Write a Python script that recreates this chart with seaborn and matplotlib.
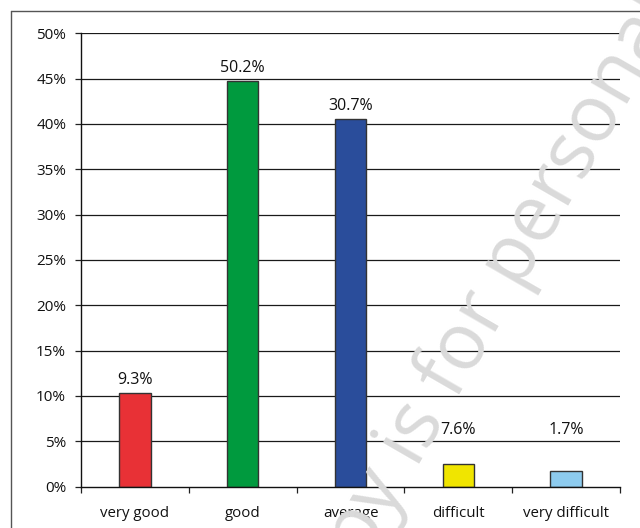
import matplotlib
matplotlib.use("Agg")
import matplotlib.pyplot as plt
from matplotlib.lines import Line2D
import seaborn as sns
import pandas as pd
import numpy as np

categories = ["very good", "good", "average", "difficult", "very difficult"]
bar_heights = [10.3, 44.7, 40.5, 2.45, 1.7]          # drawn bar heights (%)
bar_labels = ["9.3%", "50.2%", "30.7%", "7.6%", "1.7%"]  # printed labels
colors = ["#E83136", "#009A3E", "#2A4D9B", "#F0E500", "#8DCBEE"]
yticks = [0, 5, 10, 15, 20, 25, 30, 35, 40, 45, 50]

sns.set_theme(style="white")
plt.rcParams["font.family"] = ["Open Sans", "DejaVu Sans"]

df = pd.DataFrame({"cat": categories, "val": bar_heights})

fig = plt.figure(figsize=(6.4, 5.28), dpi=100)
fig.patch.set_facecolor("white")

# watermark
fig.text(0.815, 0.535, "This copy is for personal use only", rotation=60,
         fontsize=57, color="#dadada", ha="center", va="center", zorder=0)

# outer frame
fig.add_artist(Line2D([11/640, 11/640], [0, 1 - 11/528], color="#555555", lw=1.0,
                      transform=fig.transFigure))
fig.add_artist(Line2D([11/640, 1], [1 - 11/528, 1 - 11/528], color="#555555", lw=1.0,
                      transform=fig.transFigure))

ax = fig.add_axes([81/640, 1 - 486.5/528, (620 - 81)/640, (486.5 - 33.3)/528])
ax.patch.set_alpha(0)

sns.barplot(data=df, x="cat", y="val", hue="cat", palette=colors, legend=False,
            saturation=1, width=0.29, edgecolor="#333333", linewidth=1.0, ax=ax, zorder=3)

ax.set_ylim(0, 50)
ax.set_xlim(-0.5, len(categories) - 0.5)
ax.set_yticks(yticks)
ax.set_yticklabels([f"{t}%" for t in yticks])
for t in yticks[1:]:
    ax.axhline(t, color="#1a1a1a", lw=0.9, zorder=1)

ax.set_xlabel("")
ax.set_ylabel("")
ax.set_xticks(range(len(categories)))
ax.set_xticklabels(categories)
ax.set_xticks(np.arange(-0.5, len(categories), 1.0), minor=True)
ax.tick_params(axis="x", which="major", length=0, pad=14, labelsize=10.8, colors="#111111")
ax.tick_params(axis="x", which="minor", length=4.5, width=0.9, color="#222222", direction="out", bottom=True)
ax.tick_params(axis="y", which="major", length=4.2, width=0.9, color="#222222", direction="out",
               pad=6.5, labelsize=11, labelcolor="#111111", left=True)

for s in ["top", "right"]:
    ax.spines[s].set_visible(False)
for s in ["left", "bottom"]:
    ax.spines[s].set_color("#111111")
    ax.spines[s].set_linewidth(1.0)
    ax.spines[s].set_zorder(4)

for i, (h, lab) in enumerate(zip(bar_heights, bar_labels)):
    ax.text(i, max(h, 4.8) + 1.45, lab, ha="center", va="center", fontsize=11.5,
            color="#111111", zorder=5)

fig.savefig("out.png", dpi=100)
